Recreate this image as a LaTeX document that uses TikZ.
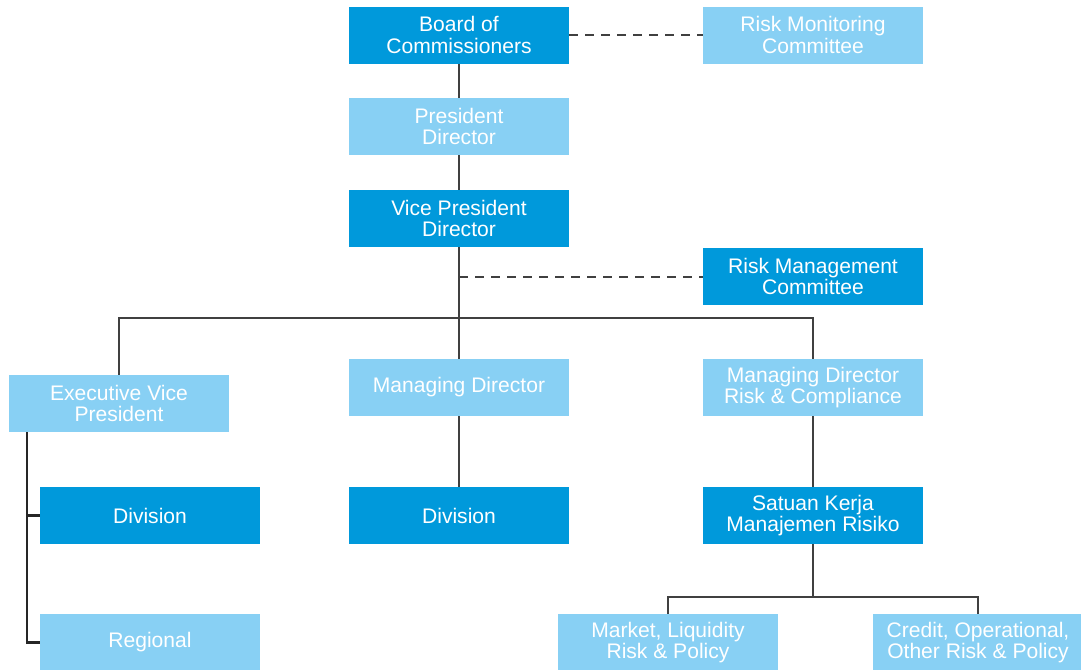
\documentclass[tikz,border=0pt]{standalone}
\usepackage{fontspec}
\setmainfont{Liberation Sans}
\usepackage{tikz}
\usetikzlibrary{positioning,calc}
\definecolor{BankDark}{HTML}{0099DB}
\definecolor{BankLight}{HTML}{88D0F4}
\definecolor{LineGrey}{HTML}{404040}

\tikzset{
  unit/.style={rectangle,inner sep=0pt,minimum width=165pt,minimum height=42.75pt,
    text=white,align=center,font=\fontsize{15.8}{16.2}\selectfont},
  darkunit/.style={unit,fill=BankDark},
  lightunit/.style={unit,fill=BankLight},
  link/.style={LineGrey,line width=1.5pt},
  advisory/.style={link,dash pattern=on 6.75pt off 5.25pt},
  bracket/.style={black!85,line width=1.8pt}
}

\begin{document}
\begin{tikzpicture}[x=0.75pt,y=-0.75pt]
  \useasboundingbox (0,0) rectangle (1081,669);
  % top of the structure
  \node[darkunit]  (board) at (459,35)    {Board of\\Commissioners};
  \node[lightunit] (rmon)  at (813,35)    {Risk Monitoring\\Committee};
  \node[lightunit] (pres)  at (459,126.5) {President\\Director};
  \node[darkunit]  (vpd)   at (459,218.5) {Vice President\\Director};
  \node[darkunit]  (rmc)   at (813,276.5) {Risk Management\\Committee};
  % directors
  \node[lightunit] (evp)   at (119,403.5) {Executive Vice\\President};
  \node[lightunit] (md)    at (459,387.5) {Managing Director};
  \node[lightunit] (mdrc)  at (813,387.5) {Managing Director\\Risk \& Compliance};
  % units below
  \node[darkunit]  (divl)  at (150,515.5) {Division};
  \node[darkunit]  (divm)  at (459,515.5) {Division};
  \node[darkunit]  (skmr)  at (813,515.5) {Satuan Kerja\\Manajemen Risiko};
  \node[lightunit] (reg)   at (150,642.5) {Regional};
  \node[lightunit] (mkt)   at (668,642.5) {Market, Liquidity\\Risk \& Policy};
  \node[lightunit,minimum width=157.5pt] (cred) at (978,642.5) {Credit, Operational,\\Other Risk \& Policy};

  \coordinate (bar)   at (459,318);
  \coordinate (split) at (813,597);
  \coordinate (ev)    at (27,432);

  \draw[link] (board) -- (pres);
  \draw[link] (pres) -- (vpd);
  \draw[link] (vpd) -- (md);
  \draw[link] (evp.north) |- (bar) -| (mdrc.north);
  \draw[link] (md) -- (divm);
  \draw[link] (mdrc) -- (skmr);
  \draw[link] (skmr) -- (split);
  \draw[link] (mkt.north) |- (split) -| (cred.north);

  \draw[advisory] (board.east) -- (rmon.west);
  \draw[advisory] (rmc.west -| vpd.south) -- (rmc.west);

  \draw[bracket] (ev) |- (reg.west);
  \draw[bracket] (ev |- divl.west) -- (divl.west);
\end{tikzpicture}
\end{document}
